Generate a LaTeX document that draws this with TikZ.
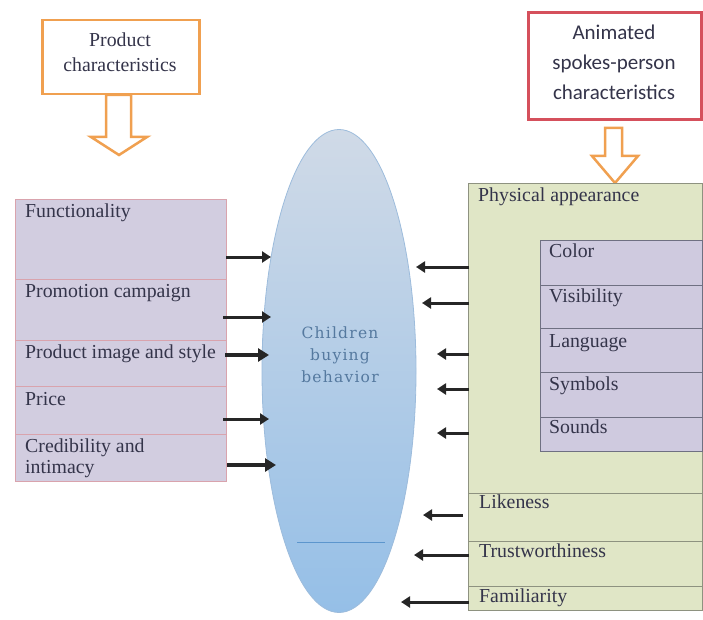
\documentclass[tikz,border=0pt]{standalone}
\usepackage{fontspec}
\setmainfont{Liberation Serif}
\newfontfamily\calfont{Carlito}
\newfontfamily\cbfont[LetterSpace=8]{DejaVu Serif}
\usetikzlibrary{shapes.geometric,arrows.meta}
\definecolor{orng}{HTML}{F0A050}
\definecolor{redb}{HTML}{D5505C}
\definecolor{lav}{HTML}{D2CDE0}
\definecolor{lavb}{HTML}{D9A3AD}
\definecolor{grn}{HTML}{E0E6C6}
\definecolor{grnb}{HTML}{8E9280}
\definecolor{lav2}{HTML}{CFCADF}
\definecolor{lav2b}{HTML}{6F7082}
\definecolor{elltop}{HTML}{D0DAE7}
\definecolor{ellbot}{HTML}{95BFE7}
\definecolor{ellb}{HTML}{9DBCDC}
\definecolor{hlc}{HTML}{5C96CD}
\definecolor{cbtext}{HTML}{55799F}
\definecolor{txt}{HTML}{34344A}
\definecolor{arrc}{HTML}{262626}
\tikzset{
  lbl/.style={anchor=base west, inner sep=0pt, text=txt, font=\fontsize{19.8}{22}\selectfont},
  arr/.style={draw=arrc, line width=3pt, -{Triangle[length=9pt,width=11pt]}},
  arrb/.style={draw=arrc, line width=3.8pt, -{Triangle[length=11pt,width=13pt]}},
}
\begin{document}
\begin{tikzpicture}[x=1pt,y=-1pt]
\useasboundingbox (0,0) rectangle (703,620);
% top boxes
\node[draw=orng, line width=2.5pt, fill=white, minimum width=157, minimum height=74, inner sep=0pt] (pc) at (121,57) {};
\node[align=center, text=txt, font=\fontsize{19.8}{25}\selectfont, inner sep=0pt, anchor=base] (pct) at (120,72) {Product\\characteristics};
\node[draw=redb, line width=2.5pt, fill=white, minimum width=173, minimum height=107, inner sep=0pt] (ac) at (615,66) {};
\node[align=center, text=txt, font=\calfont\fontsize{21}{30}\selectfont, inner sep=0pt, anchor=base] (act) at (614,100) {Animated\\spokes-person\\characteristics};
% hollow arrows
\draw[orng, line width=2.5pt, fill=white, line join=miter] (106,95) -- (131,95) -- (131,137) -- (147,137) -- (119,155) -- (91,137) -- (106,137) -- cycle;
\draw[orng, line width=2.5pt, fill=white, line join=miter] (605,128) -- (622,128) -- (622,156) -- (638,156) -- (615,183) -- (592,156) -- (605,156) -- cycle;
% left stack
\foreach \ya/\yb in {199/279,279/340,340/386,386/434,434/481}{
  \draw[lavb, fill=lav, line width=0.9pt] (15,\ya) rectangle (226,\yb);
}
\node[lbl] (l1) at (25,218) {Functionality};
\node[lbl] (l2) at (25,297) {Promotion campaign};
\node[lbl] (l3) at (25,358) {Product image and style};
\node[lbl] (l4) at (25,405) {Price};
\node[lbl, align=left, font=\fontsize{19.8}{21}\selectfont] (l5) at (25,473) {Credibility and\\intimacy};
% ellipse
\node[ellipse, draw=ellb, line width=0.8pt, top color=elltop, bottom color=ellbot, minimum width=154, minimum height=483, inner sep=0pt] (cbb) at (339,371) {};
\coordinate (hl1) at (297,542);
\coordinate (hl2) at (385,542);
\draw[hlc, line width=1pt] (hl1) -- (hl2);
\node[align=center, text=cbtext, font=\cbfont\fontsize{15.5}{22}\selectfont, inner sep=0pt, anchor=base] (cbt) at (340,382) {Children\\buying\\behavior};
% right big box
\draw[grnb, fill=grn, line width=0.9pt] (468,183) rectangle (702,610);
\draw[grnb, line width=0.9pt] (468,493) -- (702,493);
\draw[grnb, line width=0.9pt] (468,541) -- (702,541);
\draw[grnb, line width=0.9pt] (468,586) -- (702,586);
\foreach \ya/\yb in {240/285,285/328,328/372,372/417,417/451}{
  \draw[lav2b, fill=lav2, line width=0.9pt] (540,\ya) rectangle (702,\yb);
}
\node[lbl] (r0) at (478,202) {Physical appearance};
\node[lbl] (r1) at (549,257) {Color};
\node[lbl] (r2) at (549,302) {Visibility};
\node[lbl] (r3) at (549,347) {Language};
\node[lbl] (r4) at (549,390) {Symbols};
\node[lbl] (r5) at (549,433) {Sounds};
\node[lbl] (r6) at (479,508) {Likeness};
\node[lbl] (r7) at (479,557) {Trustworthiness};
\node[lbl] (r8) at (479,602) {Familiarity};
% left arrows
\coordinate (a1s) at (226,257); \coordinate (a1e) at (271,257);
\coordinate (a2s) at (223,317); \coordinate (a2e) at (271,317);
\coordinate (a3s) at (225,355); \coordinate (a3e) at (269,355);
\coordinate (a4s) at (223,419); \coordinate (a4e) at (269,419);
\coordinate (a5s) at (227,465); \coordinate (a5e) at (276,465);
\draw[arr] (a1s) -- (a1e);
\draw[arr] (a2s) -- (a2e);
\draw[arrb] (a3s) -- (a3e);
\draw[arr] (a4s) -- (a4e);
\draw[arrb] (a5s) -- (a5e);
% right arrows
\coordinate (b1s) at (469,267); \coordinate (b1e) at (416,267);
\coordinate (b2s) at (469,303); \coordinate (b2e) at (422,303);
\coordinate (b3s) at (469,354); \coordinate (b3e) at (437,354);
\coordinate (b4s) at (469,389); \coordinate (b4e) at (437,389);
\coordinate (b5s) at (469,433); \coordinate (b5e) at (437,433);
\coordinate (b6s) at (463,515); \coordinate (b6e) at (423,515);
\coordinate (b7s) at (469,555); \coordinate (b7e) at (414,555);
\coordinate (b8s) at (469,602); \coordinate (b8e) at (401,602);
\draw[arr] (b1s) -- (b1e);
\draw[arr] (b2s) -- (b2e);
\draw[arr] (b3s) -- (b3e);
\draw[arr] (b4s) -- (b4e);
\draw[arr] (b5s) -- (b5e);
\draw[arr] (b6s) -- (b6e);
\draw[arr] (b7s) -- (b7e);
\draw[arr] (b8s) -- (b8e);
\end{tikzpicture}
\end{document}
